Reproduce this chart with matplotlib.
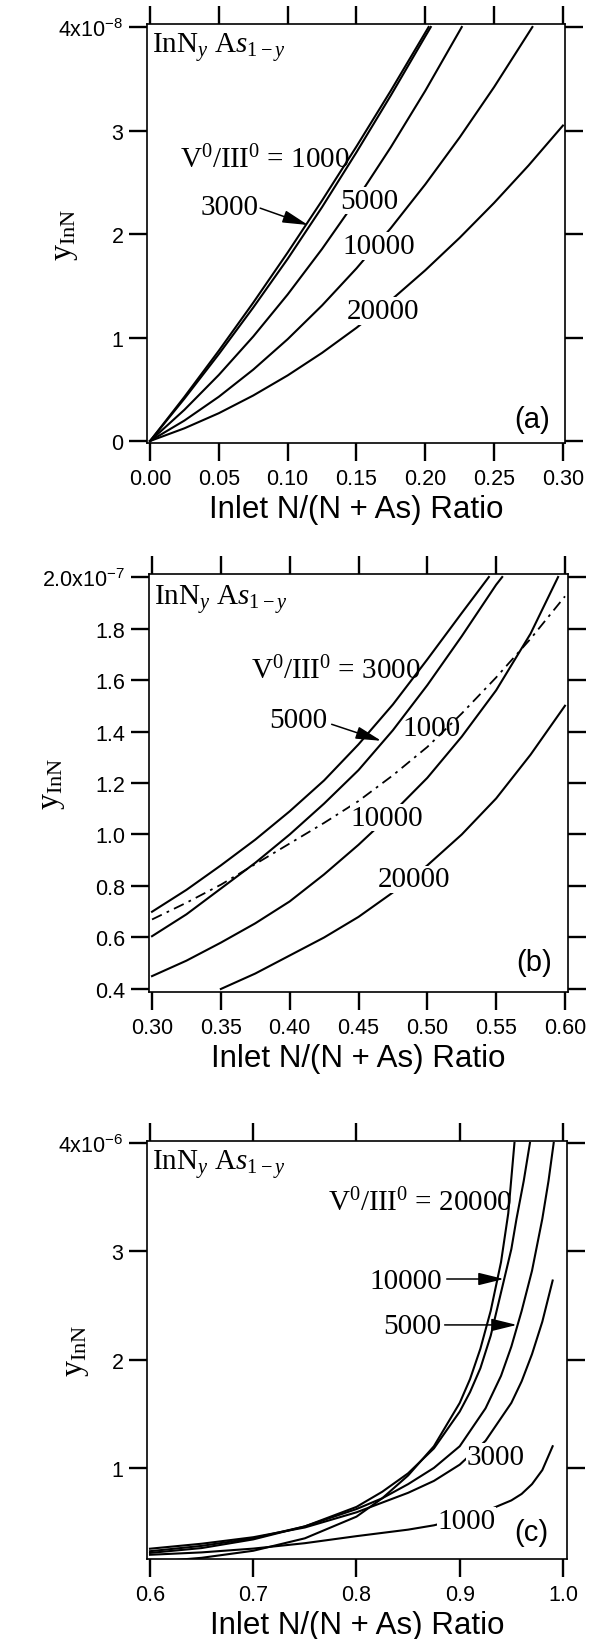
import matplotlib
matplotlib.use("Agg")
import matplotlib.pyplot as plt

plt.rcParams['font.family'] = ['Liberation Sans', 'DejaVu Sans']
plt.rcParams['mathtext.default'] = 'regular'
plt.rcParams['mathtext.fontset'] = 'custom'
plt.rcParams['mathtext.rm'] = 'Liberation Serif'
plt.rcParams['mathtext.it'] = 'Liberation Serif:italic'

SERIF = 'Liberation Serif'

# ---------- panel (a): y in units of 1e-8
a_x_1000 = [0, 0.025, 0.05, 0.075, 0.10, 0.125, 0.15, 0.175, 0.20, 0.2024]
a_y_1000 = [0, 0.427, 0.873, 1.337, 1.821, 2.324, 2.846, 3.386, 3.946, 4.0]
a_x_3000 = [0, 0.025, 0.05, 0.075, 0.10, 0.125, 0.15, 0.175, 0.20, 0.2040]
a_y_3000 = [0, 0.410, 0.840, 1.290, 1.760, 2.260, 2.790, 3.340, 3.910, 4.0]
a_x_5000 = [0, 0.025, 0.05, 0.075, 0.10, 0.125, 0.15, 0.175, 0.20, 0.2265]
a_y_5000 = [0, 0.302, 0.639, 1.010, 1.416, 1.856, 2.331, 2.840, 3.384, 4.0]
a_x_10000 = [0, 0.025, 0.05, 0.075, 0.10, 0.125, 0.15, 0.175, 0.20, 0.225, 0.25, 0.2778]
a_y_10000 = [0, 0.198, 0.428, 0.690, 0.984, 1.310, 1.668, 2.058, 2.480, 2.934, 3.420, 4.0]
a_x_20000 = [0, 0.025, 0.05, 0.075, 0.10, 0.125, 0.15, 0.175, 0.20, 0.225, 0.25, 0.275, 0.30]
a_y_20000 = [0, 0.123, 0.269, 0.440, 0.634, 0.852, 1.094, 1.360, 1.650, 1.964, 2.301, 2.662, 3.048]

# ---------- panel (b): y in units of 1e-7
b_x_3000 = [0.30, 0.325, 0.35, 0.375, 0.40, 0.425, 0.45, 0.475, 0.50, 0.525, 0.5447]
b_y_3000 = [0.70, 0.785, 0.88, 0.98, 1.09, 1.21, 1.35, 1.505, 1.68, 1.86, 2.0]
b_x_5000 = [0.30, 0.325, 0.35, 0.375, 0.40, 0.425, 0.45, 0.475, 0.50, 0.525, 0.55, 0.5544]
b_y_5000 = [0.605, 0.69, 0.79, 0.89, 1.00, 1.12, 1.25, 1.405, 1.58, 1.77, 1.97, 2.0]
b_x_1000 = [0.30, 0.325, 0.35, 0.375, 0.40, 0.425, 0.45, 0.475, 0.50, 0.525, 0.55, 0.575, 0.60]
b_y_1000 = [0.67, 0.735, 0.805, 0.885, 0.965, 1.045, 1.13, 1.23, 1.34, 1.47, 1.61, 1.76, 1.925]
b_x_10000 = [0.30, 0.325, 0.35, 0.375, 0.40, 0.425, 0.45, 0.475, 0.50, 0.525, 0.55, 0.575, 0.595]
b_y_10000 = [0.45, 0.51, 0.58, 0.655, 0.74, 0.845, 0.96, 1.085, 1.22, 1.38, 1.56, 1.78, 2.0]
b_x_20000 = [0.35, 0.375, 0.40, 0.425, 0.45, 0.475, 0.50, 0.525, 0.55, 0.575, 0.60]
b_y_20000 = [0.40, 0.46, 0.53, 0.60, 0.68, 0.775, 0.88, 1.00, 1.14, 1.31, 1.50]

# ---------- panel (c): y in units of 1e-6
c_x_20000 = [0.60, 0.65, 0.70, 0.75, 0.80, 0.825, 0.85, 0.875, 0.90, 0.91, 0.92, 0.93, 0.94, 0.947, 0.953]
c_y_20000 = [0.13, 0.17, 0.235, 0.35, 0.55, 0.72, 0.93, 1.20, 1.60, 1.82, 2.10, 2.45, 2.90, 3.35, 4.0]
c_x_10000 = [0.60, 0.65, 0.70, 0.75, 0.80, 0.825, 0.85, 0.875, 0.90, 0.91, 0.92, 0.93, 0.94, 0.95, 0.955, 0.962, 0.968]
c_y_10000 = [0.215, 0.26, 0.34, 0.46, 0.64, 0.78, 0.95, 1.18, 1.52, 1.70, 1.92, 2.22, 2.62, 3.02, 3.30, 3.65, 4.0]
c_x_5000 = [0.60, 0.65, 0.70, 0.75, 0.80, 0.825, 0.85, 0.875, 0.90, 0.925, 0.94, 0.95, 0.96, 0.97, 0.98, 0.986, 0.991]
c_y_5000 = [0.231, 0.28, 0.35, 0.46, 0.62, 0.72, 0.85, 1.00, 1.20, 1.55, 1.85, 2.12, 2.45, 2.82, 3.30, 3.65, 4.0]
c_x_3000 = [0.60, 0.65, 0.70, 0.75, 0.80, 0.85, 0.875, 0.90, 0.925, 0.95, 0.96, 0.97, 0.98, 0.99]
c_y_3000 = [0.254, 0.30, 0.36, 0.45, 0.59, 0.77, 0.88, 1.03, 1.25, 1.60, 1.80, 2.05, 2.35, 2.73]
c_x_1000 = [0.60, 0.65, 0.70, 0.75, 0.80, 0.85, 0.875, 0.90, 0.925, 0.95, 0.96, 0.97, 0.98, 0.99]
c_y_1000 = [0.198, 0.22, 0.255, 0.305, 0.37, 0.43, 0.47, 0.53, 0.60, 0.70, 0.76, 0.85, 0.98, 1.20]

# tick labels
a_xticks = [0, 0.05, 0.10, 0.15, 0.20, 0.25, 0.30]
a_xlabels = ['0.00', '0.05', '0.10', '0.15', '0.20', '0.25', '0.30']
a_yticks = [0, 1, 2, 3, 4]
a_ylabels = ['0', '1', '2', '3', '4x10$^{-8}$']
b_xticks = [0.30, 0.35, 0.40, 0.45, 0.50, 0.55, 0.60]
b_xlabels = ['0.30', '0.35', '0.40', '0.45', '0.50', '0.55', '0.60']
b_yticks = [0.4, 0.6, 0.8, 1.0, 1.2, 1.4, 1.6, 1.8, 2.0]
b_ylabels = ['0.4', '0.6', '0.8', '1.0', '1.2', '1.4', '1.6', '1.8', '2.0x10$^{-7}$']
c_xticks = [0.6, 0.7, 0.8, 0.9, 1.0]
c_xlabels = ['0.6', '0.7', '0.8', '0.9', '1.0']
c_yticks = [1, 2, 3, 4]
c_ylabels = ['1', '2', '3', '4x10$^{-6}$']

XTITLE = 'Inlet N/(N + As) Ratio'
COMP = r'InN$_{\mathit{y}}$ A$\mathit{s}_{1-\mathit{y}}$'
YTITLE = r'$y_{InN}$'

W, H = 596, 1640
fig = plt.figure(figsize=(W / 100, H / 100), dpi=100)


def frame(l, r, t, b):
    return fig.add_axes([l / W, 1 - b / H, (r - l) / W, (b - t) / H])


def style(ax, xt, xl, yt, yl, ylab_x):
    ax.set_xticks(xt)
    ax.set_xticklabels(xl)
    ax.set_yticks(yt)
    ax.set_yticklabels(yl)
    ax.tick_params(direction='out', length=13, width=1.7, labelsize=15.5,
                   top=True, right=True)
    ax.tick_params(axis='x', pad=5)
    ax.tick_params(axis='y', pad=4)
    for s in ax.spines.values():
        s.set_linewidth(1.2)
    ax.text(0.5, -0.157, XTITLE, transform=ax.transAxes, ha='center', va='center',
            fontsize=22.5)
    ax.text(ylab_x, 0.5, YTITLE, transform=ax.transAxes, rotation=90, ha='center',
            va='center', fontsize=23, fontfamily=SERIF)


LW = 1.5
gap = dict(facecolor='white', edgecolor='none', pad=0.5)
arrow = dict(arrowstyle='-|>,head_length=1.3,head_width=0.32', color='k', lw=1.1,
             mutation_scale=12, shrinkA=0, shrinkB=0)
lbl = dict(fontfamily=SERIF, fontsize=21, va='center', ha='left', zorder=5)

# ---------------- (a)
ax = frame(147, 565, 25, 444)
ax.plot(a_x_1000, a_y_1000, 'k', lw=LW)
ax.plot(a_x_3000, a_y_3000, 'k', lw=LW)
ax.plot(a_x_5000, a_y_5000, 'k', lw=LW)
ax.plot(a_x_10000, a_y_10000, 'k', lw=LW)
ax.plot(a_x_20000, a_y_20000, 'k', lw=LW)
ax.set_xlim(-0.0022, 0.3015)
ax.set_ylim(-0.019, 4.029)
style(ax, a_xticks, a_xlabels, a_yticks, a_ylabels, -0.194)
ax.text(0.0015, 3.81, COMP, **lbl)
ax.text(0.022, 2.72, r'V$^0$/III$^0$ = 1000', **lbl)
ax.text(0.037, 2.26, '3000', **lbl)
ax.annotate('', xy=(0.1148, 2.087), xytext=(0.080, 2.25), arrowprops=arrow)
ax.text(0.138, 2.32, '5000', bbox=gap, **lbl)
ax.text(0.140, 1.884, '10000', bbox=gap, **lbl)
ax.text(0.143, 1.256, '20000', bbox=gap, **lbl)
ax.text(0.2906, 0.21, '(a)', fontsize=21, ha='right', va='center')

# ---------------- (b)
ax = frame(149, 568, 575, 993)
ax.plot(b_x_3000, b_y_3000, 'k', lw=LW)
ax.plot(b_x_5000, b_y_5000, 'k', lw=LW)
ax.plot(b_x_1000, b_y_1000, 'k', lw=1.3, dashes=(6, 3, 1.5, 3))
ax.plot(b_x_10000, b_y_10000, 'k', lw=LW)
ax.plot(b_x_20000, b_y_20000, 'k', lw=LW)
ax.set_xlim(0.2978, 0.6022)
ax.set_ylim(0.3883, 2.0117)
style(ax, b_xticks, b_xlabels, b_yticks, b_ylabels, -0.2315)
ax.text(0.3015, 1.916, COMP, **lbl)
ax.text(0.372, 1.64, r'V$^0$/III$^0$ = 3000', **lbl)
ax.text(0.385, 1.445, '5000', **lbl)
ax.annotate('', xy=(0.4665, 1.364), xytext=(0.4305, 1.428), arrowprops=arrow)
ax.text(0.4817, 1.413, '1000', **lbl)
ax.text(0.4443, 1.065, '10000', bbox=gap, **lbl)
ax.text(0.4637, 0.826, '20000', bbox=gap, **lbl)
ax.text(0.5909, 0.505, '(b)', fontsize=21, ha='right', va='center')

# ---------------- (c)
ax = frame(147, 567, 1142, 1560)
ax.plot(c_x_20000, c_y_20000, 'k', lw=LW)
ax.plot(c_x_10000, c_y_10000, 'k', lw=LW)
ax.plot(c_x_5000, c_y_5000, 'k', lw=LW)
ax.plot(c_x_3000, c_y_3000, 'k', lw=LW)
ax.plot(c_x_1000, c_y_1000, 'k', lw=LW)
ax.set_xlim(0.5971, 1.0039)
ax.set_ylim(0.159, 4.018)
style(ax, c_xticks, c_xlabels, c_yticks, c_ylabels, -0.169)
ax.text(0.6015, 3.81, COMP, **lbl)
ax.text(0.772, 3.45, r'V$^0$/III$^0$ = 20000', **lbl)
ax.text(0.813, 2.73, '10000', **lbl)
ax.annotate('', xy=(0.9427, 2.744), xytext=(0.8874, 2.744), arrowprops=arrow)
ax.text(0.826, 2.31, '5000', **lbl)
ax.annotate('', xy=(0.9553, 2.32), xytext=(0.8854, 2.32), arrowprops=arrow)
ax.text(0.9068, 1.10, '3000', bbox=gap, **lbl)
ax.text(0.8786, 0.51, '1000', bbox=gap, **lbl)
ax.text(0.9854, 0.41, '(c)', fontsize=21, ha='right', va='center')

fig.savefig('out.png', dpi=100)
